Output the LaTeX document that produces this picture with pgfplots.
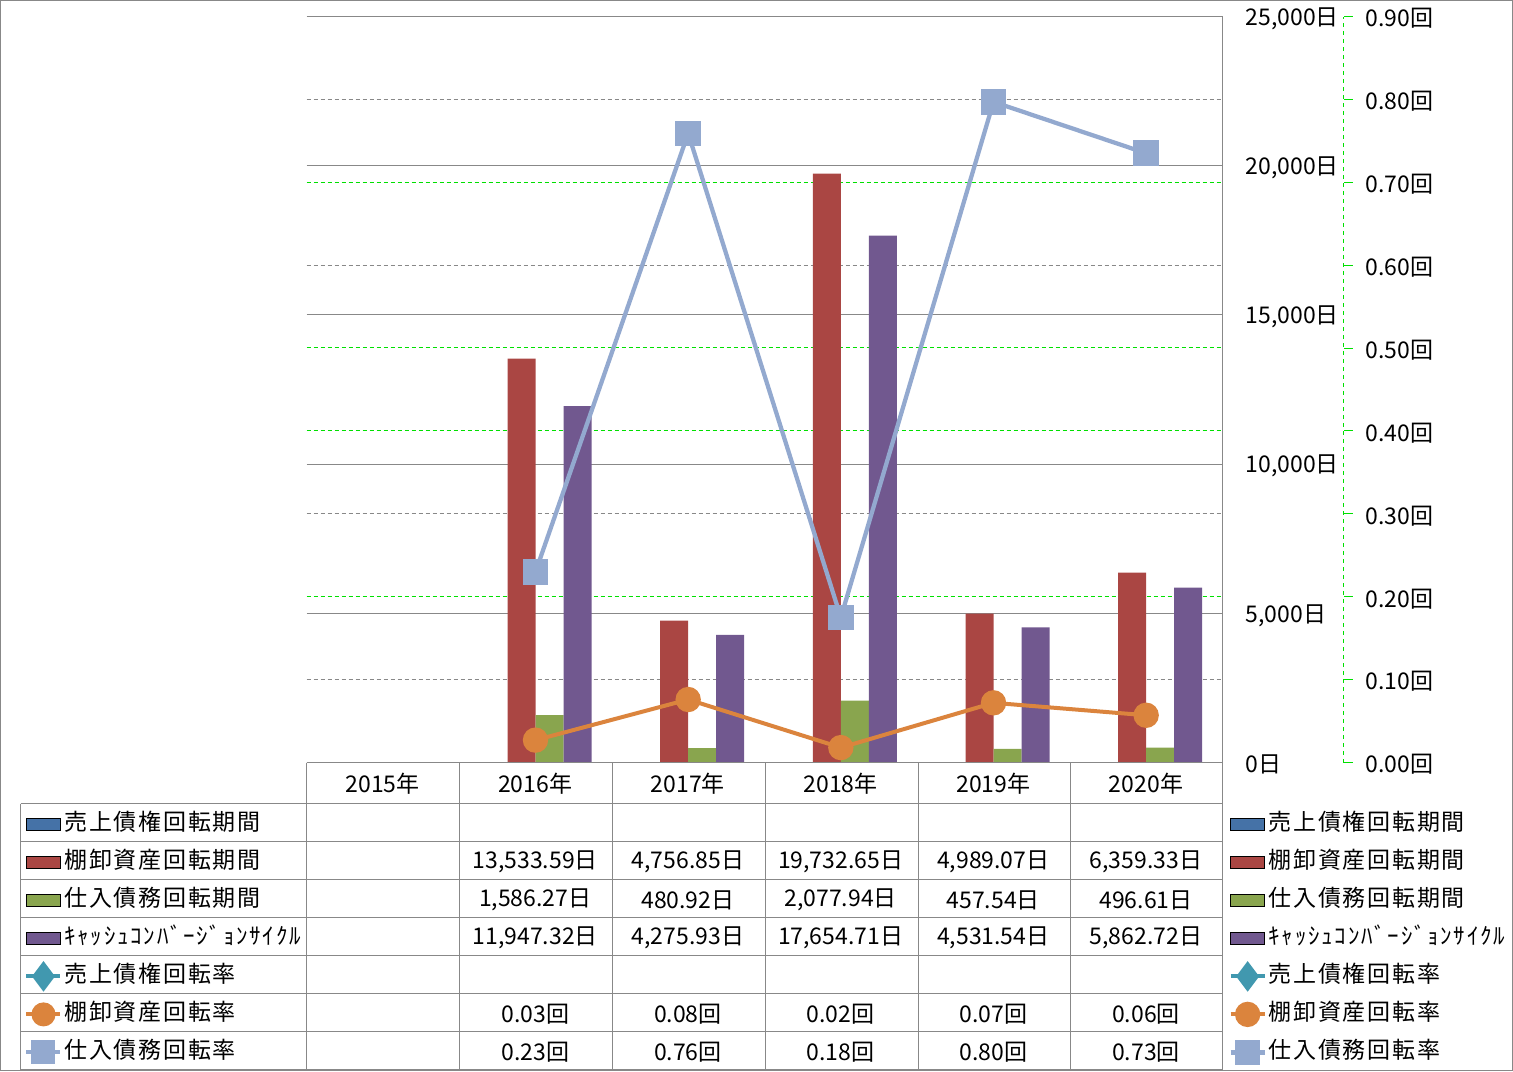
\documentclass[border=0pt]{standalone}
\usepackage{fontspec}
\setmainfont{Noto Sans CJK JP}
\newfontfamily\lbl{Noto Sans CJK JP}[LetterSpace=7.5]
\usepackage{pgfplots}
\pgfplotsset{compat=1.18}
\definecolor{c1}{HTML}{4572A7}
\definecolor{c2}{HTML}{AA4643}
\definecolor{c3}{HTML}{89A54E}
\definecolor{c4}{HTML}{71588F}
\definecolor{c5}{HTML}{4198AF}
\definecolor{c6}{HTML}{DB843D}
\definecolor{c7}{HTML}{93A9CF}
\definecolor{gg}{HTML}{888888}
\definecolor{gr}{HTML}{00E000}
\newcommand{\fs}{\fontsize{17.25pt}{20pt}\selectfont}
\pgfplotsset{
  common/.style={
    at={(229.875pt,-571.875pt)}, anchor=south west,
    width=687pt, height=559.5pt, scale only axis,
    xmin=-0.5, xmax=5.5, clip=false, xtick=\empty,
    tick label style={font=\fs},
  },
  gridonly/.style={common, ymin=0, ymax=746, axis line style={draw=none},
    yticklabels={}, major tick length=0pt, ymajorgrids},
  barkey/.style={legend image code/.code={\fill[##1] (0pt,-4.5pt) rectangle (25.5pt,4.5pt);}},
  linekey/.style={legend image code/.code={\draw[mark repeat=2,mark phase=2,##1] plot coordinates {(0pt,0pt) (12.75pt,0pt) (25.5pt,0pt)};}},
  mylegend/.style={legend style={draw=none, fill=none, inner sep=0pt, outer sep=0pt,
      row sep=0pt, column sep=1.5pt, anchor=north west,
      nodes={inner sep=0pt, minimum height=28.5pt, text height=13pt, text depth=3.5pt, font=\fs\lbl}},
      legend cell align=left},
}
\begin{document}
\begin{tikzpicture}
\useasboundingbox (0,0) rectangle (1134.75pt,-803.25pt);
\draw[gg, line width=0.75pt] (0.375pt,-0.375pt) rectangle (1134.375pt,-802.875pt);

% gray dashed secondary grid lines (0.1, 0.3, 0.6, 0.8), scale in pixel rows
\begin{axis}[gridonly, ytick={83,249,497,663},
  major grid style={draw=gg, dash pattern=on 3pt off 2.25pt, line width=0.75pt}]
\end{axis}
% green dashed secondary grid lines (0.2, 0.4, 0.5, 0.7)
\begin{axis}[gridonly, ytick={166,332,415,580},
  major grid style={draw=gr, dash pattern=on 3pt off 2.25pt, line width=0.8pt}]
\end{axis}

% secondary axis line, ticks and labels
\begin{axis}[common,
  ymin=0, ymax=0.9,
  hide x axis,
  axis y line*=right,
  axis y line shift=90.75pt,
  y axis line style={gr, dashed, line width=0.75pt},
  ytick={0,0.1,0.2,0.3,0.4,0.5,0.6,0.7,0.8,0.9},
  yticklabels={0.00回,0.10回,0.20回,0.30回,0.40回,0.50回,0.60回,0.70回,0.80回,0.90回},
  tick align=outside, major tick length=6.75pt,
  major tick style={gr, line width=0.75pt},
  yticklabel style={anchor=west, inner sep=0pt, xshift=9.75pt, yshift=-1.5pt},
  mylegend,
  legend style={at={(axis description cs:-0.30786,-0.0575)}},
]
\addlegendimage{barkey, fill=c1}
\addlegendentry{売上債権回転期間}
\addlegendimage{barkey, fill=c2}
\addlegendentry{棚卸資産回転期間}
\addlegendimage{barkey, fill=c3}
\addlegendentry{仕入債務回転期間}
\addlegendimage{barkey, fill=c4}
\addlegendentry{ｷｬｯｼｭｺﾝﾊﾞｰｼﾞｮﾝｻｲｸﾙ}
\addlegendimage{linekey, c5, line width=3pt, mark=diamond*, mark size=9pt, mark options={fill=c5}}
\addlegendentry{売上債権回転率}
\addlegendimage{linekey, c6, line width=3pt, mark=*, mark size=7.5pt, mark options={fill=c6}}
\addlegendentry{棚卸資産回転率}
\addlegendimage{linekey, c7, line width=3pt, mark=square*, mark size=7.5pt, mark options={fill=c7, rounded corners=2pt}}
\addlegendentry{仕入債務回転率}
\end{axis}

% primary axis with bars
\begin{axis}[common,
  ymin=0, ymax=25000,
  axis x line=none,
  axis y line*=right,
  y axis line style={gg, line width=0.75pt},
  ytick={0,5000,10000,15000,20000,25000},
  yticklabels={0日,{5,000日},{10,000日},{15,000日},{20,000日},{25,000日}},
  ymajorgrids, major grid style={gg, line width=0.75pt},
  major tick length=0pt,
  yticklabel style={anchor=west, inner sep=0pt, xshift=17.25pt, yshift=-1.5pt},
  ybar, bar width=21pt,
]
\addplot[fill=c2, draw=none, bar shift=-10.5pt] coordinates {(1,13533.59) (2,4756.85) (3,19732.65) (4,4989.07) (5,6359.33)};
\addplot[fill=c3, draw=none, bar shift=10.5pt] coordinates {(1,1586.27) (2,480.92) (3,2077.94) (4,457.54) (5,496.61)};
\addplot[fill=c4, draw=none, bar shift=31.5pt] coordinates {(1,11947.32) (2,4275.93) (3,17654.71) (4,4531.54) (5,5862.72)};
\end{axis}

% lines on secondary scale
\begin{axis}[common,
  ymin=0, ymax=0.9,
  hide axis,
  mylegend,
  legend style={at={(axis description cs:1.00655,-0.0575)}},
]
\addlegendimage{barkey, fill=c1}
\addlegendentry{売上債権回転期間}
\addlegendimage{barkey, fill=c2}
\addlegendentry{棚卸資産回転期間}
\addlegendimage{barkey, fill=c3}
\addlegendentry{仕入債務回転期間}
\addlegendimage{barkey, fill=c4}
\addlegendentry{ｷｬｯｼｭｺﾝﾊﾞｰｼﾞｮﾝｻｲｸﾙ}
\addlegendimage{linekey, c5, line width=3pt, mark=diamond*, mark size=9pt, mark options={fill=c5}}
\addlegendentry{売上債権回転率}
\addplot[linekey, c6, line width=3pt, mark=*, mark size=8pt, mark options={fill=c6}] coordinates {(1,0.027) (2,0.076) (3,0.018) (4,0.072) (5,0.057)};
\addlegendentry{棚卸資産回転率}
\addplot[linekey, c7, line width=3.2pt, mark=square*, mark size=8pt, mark options={fill=c7, rounded corners=2pt}] coordinates {(1,0.230) (2,0.759) (3,0.175) (4,0.797) (5,0.735)};
\addlegendentry{仕入債務回転率}
\end{axis}

% data table
\begin{scope}[x=0.75pt, y=-0.75pt, gg, line width=0.75pt, shift={(0.5,0.5)}]
\draw (306,762) -- (1222,762);
\foreach \yy in {803,841,879,917,955,993,1031,1069} \draw (20,\yy) -- (1222,\yy);
\draw (20,803) -- (20,1069);
\foreach \xx in {306,459,612,765,918,1070} \draw (\xx,762) -- (\xx,1069);
\draw (1222,762) -- (1222,1069);
\end{scope}
\begin{scope}[x=0.75pt, y=-0.75pt, font=\fs, every node/.style={text=black, inner sep=0pt, yshift=-1.5pt}]
\foreach \t [count=\i from 0] in {2015年,2016年,2017年,2018年,2019年,2020年}
  \node at ({382.5+152.7*\i},782) {\t};
\foreach \t [count=\i] in {{13,533.59日},{4,756.85日},{19,732.65日},{4,989.07日},{6,359.33日}}
  \node at ({382.5+152.7*\i},860) {\t};
\foreach \t [count=\i] in {{1,586.27日},{480.92日},{2,077.94日},{457.54日},{496.61日}}
  \node at ({382.5+152.7*\i},898) {\t};
\foreach \t [count=\i] in {{11,947.32日},{4,275.93日},{17,654.71日},{4,531.54日},{5,862.72日}}
  \node at ({382.5+152.7*\i},936) {\t};
\foreach \t [count=\i] in {0.03回,0.08回,0.02回,0.07回,0.06回}
  \node at ({382.5+152.7*\i},1012) {\t};
\foreach \t [count=\i] in {0.23回,0.76回,0.18回,0.80回,0.73回}
  \node at ({382.5+152.7*\i},1050) {\t};
\end{scope}
\end{tikzpicture}
\end{document}
